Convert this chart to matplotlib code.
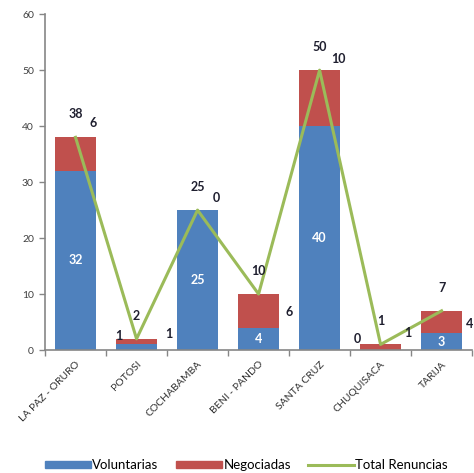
import numpy as np
import matplotlib
matplotlib.use("Agg")
import matplotlib.pyplot as plt
from matplotlib.lines import Line2D
from matplotlib.patches import Patch

plt.rcParams['font.family'] = ['Lato', 'DejaVu Sans']

# Renuncias por regional
regionales = ["LA PAZ - ORURO", "POTOSI", "COCHABAMBA", "BENI - PANDO",
              "SANTA CRUZ", "CHUQUISACA", "TARIJA"]
voluntarias = [32, 1, 25, 4, 40, 0, 3]
negociadas = [6, 1, 0, 6, 10, 1, 4]
total_renuncias = [38, 2, 25, 10, 50, 1, 7]
yticks = [0, 10, 20, 30, 40, 50, 60]

# label offsets in pixels (hand placed)
neg_offsets = [(18, 14), (32, 5), (19, 12), (31, -18), (19, 11), (27, 11), (28, -13)]
vol_small_offsets = {1: (-18, 11), 5: (-23, 11)}

azul = "#4F81BD"
rojo = "#C0504D"
verde = "#9BBB59"
gris = "#868686"
texto = "#1F1F2F"

fig = plt.figure(figsize=(4.74, 4.73), dpi=100)
ax = fig.add_axes([0.095, 0.26, 0.901, 0.71])

x = np.arange(len(regionales))
ax.bar(x, voluntarias, width=0.66, color=azul, zorder=2)
ax.bar(x, negociadas, width=0.66, bottom=voluntarias, color=rojo, zorder=2)
ax.plot(x, total_renuncias, color=verde, linewidth=2.2, zorder=3)

for i in range(len(x)):
    v = voluntarias[i]
    top = voluntarias[i] + negociadas[i]
    # voluntarias
    if i in vol_small_offsets:
        ax.annotate(str(v), (x[i], v / 2), xytext=vol_small_offsets[i],
                    textcoords="offset pixels", ha="center", va="center",
                    fontsize=9, fontweight="bold", color=texto, zorder=4)
    else:
        ax.text(x[i], v / 2, str(v), ha="center", va="center",
                fontsize=9, fontweight="bold", color="white", zorder=4)
    # negociadas
    ax.annotate(str(negociadas[i]), (x[i], top), xytext=neg_offsets[i],
                textcoords="offset pixels", ha="center", va="center",
                fontsize=9, fontweight="bold", color=texto, zorder=4)
    # total
    ax.annotate(str(total_renuncias[i]), (x[i], total_renuncias[i]), xytext=(0, 23),
                textcoords="offset pixels", ha="center", va="center",
                fontsize=9, fontweight="bold", color=texto, zorder=4)

ax.set_xlim(-0.5, len(x) - 0.5)
ax.set_ylim(0, 60)
ax.set_yticks(yticks)
ax.set_yticklabels([str(t) for t in yticks], fontsize=7.5, color="#404040")
ax.set_xticks(x)
ax.set_xticklabels(regionales, rotation=45, ha="right", rotation_mode="anchor",
                   fontsize=7.5, color="#303030")
ax.set_xticks(np.arange(-0.5, len(x)), minor=True)
ax.tick_params(axis="x", which="major", length=0, pad=7)
ax.tick_params(axis="x", which="minor", length=4, color=gris, width=1)
ax.tick_params(axis="y", length=4, color=gris, width=1, pad=4)

for s in ["top", "right"]:
    ax.spines[s].set_visible(False)
for s in ["left", "bottom"]:
    ax.spines[s].set_color(gris)
    ax.spines[s].set_linewidth(1.2)

handles = [Patch(color=azul, label="Voluntarias"),
           Patch(color=rojo, label="Negociadas"),
           Line2D([0], [0], color=verde, linewidth=2.2, label="Total Renuncias")]
fig.legend(handles=handles, loc="center", bbox_to_anchor=(0.52, 0.017), ncol=3,
           frameon=False, fontsize=9.5, handlelength=3.5, handleheight=0.45,
           handletextpad=0.1, columnspacing=1.3)

fig.savefig("out.png", dpi=100)
